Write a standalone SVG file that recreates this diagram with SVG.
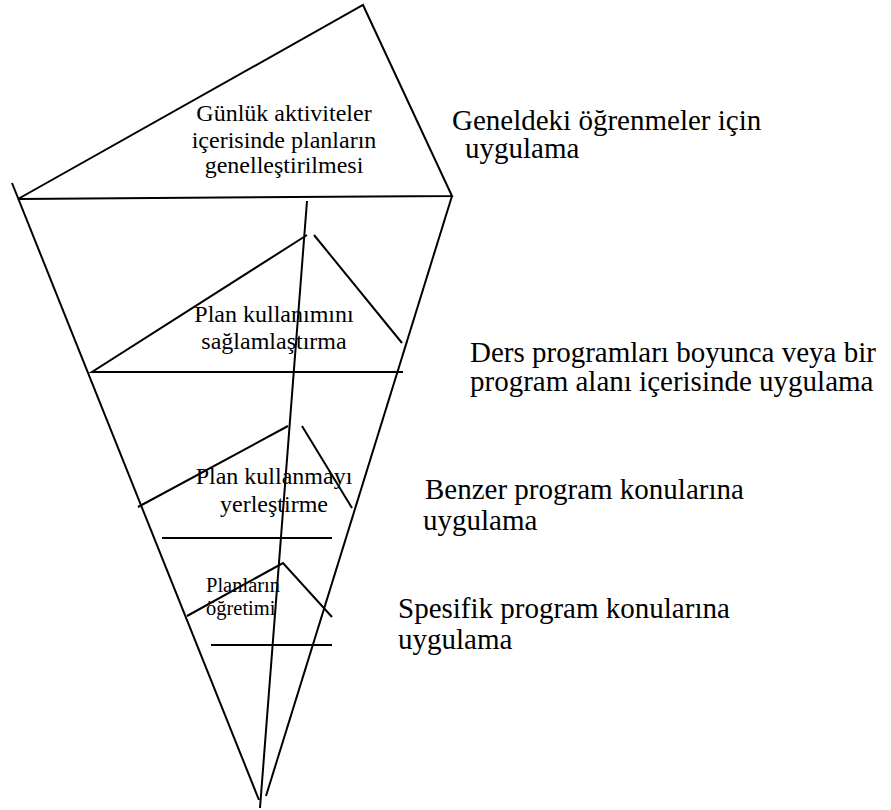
<svg xmlns="http://www.w3.org/2000/svg" width="891" height="810" viewBox="0 0 891 810">
<style>
  .ln { stroke: #000; stroke-width: 2; fill: none; stroke-linecap: butt; }
  .t { font-family: "Liberation Serif", "Times New Roman", serif; fill: #000; }
  .big { font-size: 29px; }
  .mid { font-size: 24px; text-anchor: middle; }
  .sm { font-size: 20.5px; }
</style>
<rect width="891" height="810" fill="#fff"/>
<g id="connectors">
  <line class="ln" x1="12" y1="183" x2="259" y2="800"/>
  <line class="ln" x1="452" y1="196" x2="266" y2="796"/>
  <line class="ln" x1="307" y1="201" x2="260" y2="808"/>
</g>
<g id="node-top">
  <polygon class="ln" points="18,199 363,5 452,196"/>
  <text class="t mid" x="284" y="121">Günlük aktiviteler</text>
  <text class="t mid" x="284" y="148">içerisinde planların</text>
  <text class="t mid" x="284" y="173">genelleştirilmesi</text>
</g>
<g id="node-2">
  <polyline class="ln" points="307,235 92,372 403,372"/>
  <line class="ln" x1="314" y1="235" x2="402" y2="343"/>
  <text class="t mid" x="274" y="322">Plan kullanımını</text>
  <text class="t mid" x="274" y="349">sağlamlaştırma</text>
</g>
<g id="node-3">
  <line class="ln" x1="138" y1="507" x2="288" y2="426"/>
  <line class="ln" x1="302" y1="426" x2="352" y2="508"/>
  <line class="ln" x1="162" y1="538" x2="332" y2="538"/>
  <text class="t mid" x="274" y="484">Plan kullanmayı</text>
  <text class="t mid" x="274" y="512">yerleştirme</text>
</g>
<g id="node-4">
  <polyline class="ln" points="187,616 283,563 332,617"/>
  <line class="ln" x1="211" y1="645" x2="332" y2="645"/>
  <text class="t sm" x="206" y="592">Planların</text>
  <text class="t sm" x="206" y="615">öğretimi</text>
</g>
<g id="labels">
  <text class="t big" x="452" y="130">Geneldeki öğrenmeler için</text>
  <text class="t big" x="465" y="158">uygulama</text>
  <text class="t big" x="470" y="362">Ders programları boyunca veya bir</text>
  <text class="t big" x="470" y="391">program alanı içerisinde uygulama</text>
  <text class="t big" x="425" y="499">Benzer program konularına</text>
  <text class="t big" x="423" y="530">uygulama</text>
  <text class="t big" x="398" y="618">Spesifik program konularına</text>
  <text class="t big" x="398" y="649">uygulama</text>
</g>
</svg>
